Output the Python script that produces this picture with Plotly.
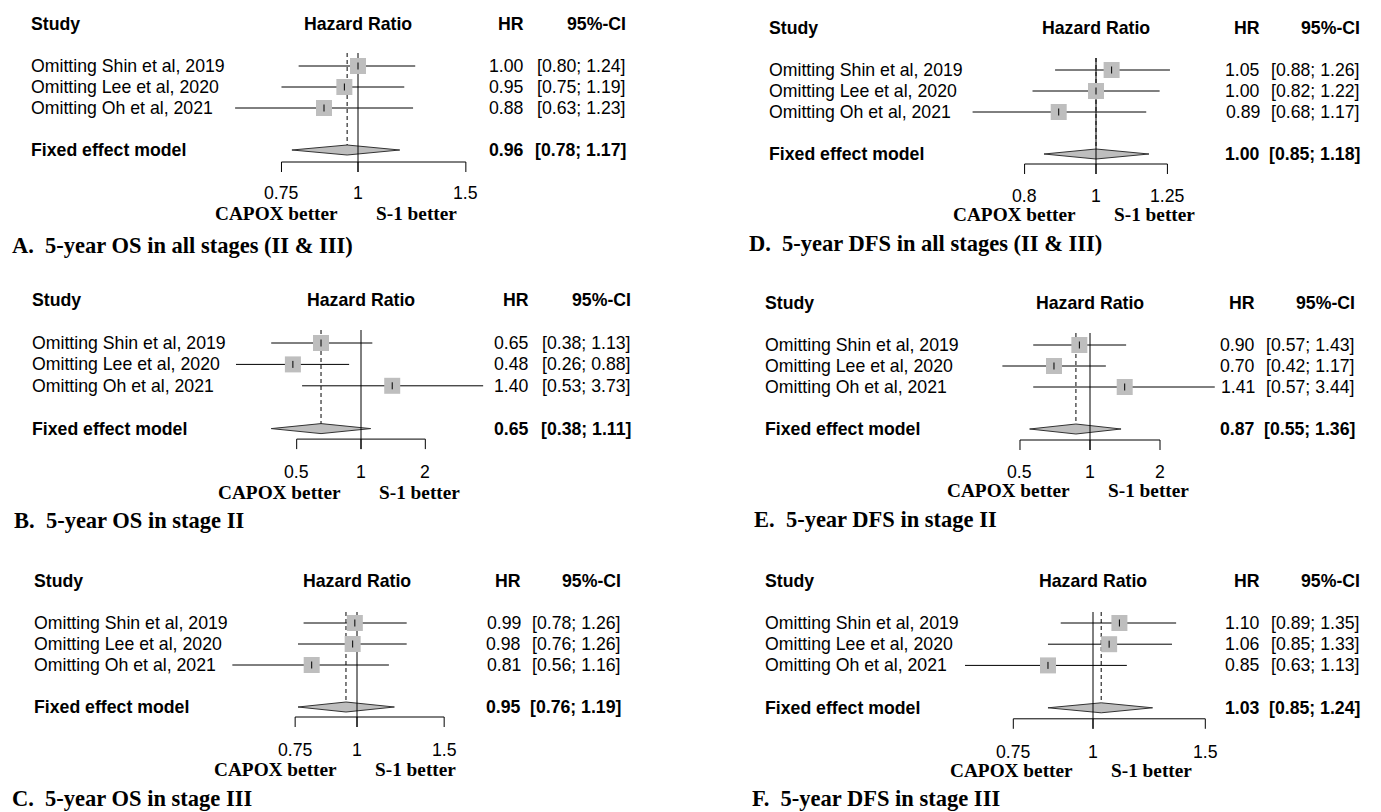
import numpy as np
import plotly.graph_objects as go

W, H = 1381, 812

# ---------------- data ----------------
studies = ["Omitting Shin et al, 2019", "Omitting Lee et al, 2020", "Omitting Oh et al, 2021"]
pooled_label = "Fixed effect model"

titles = [
    "A.\u00a0 5-year OS in all stages (II & III)",
    "B.\u00a0 5-year OS in stage II",
    "C.\u00a0 5-year OS in stage III",
    "D.\u00a0 5-year DFS in all stages (II & III)",
    "E.\u00a0 5-year DFS in stage II",
    "F.\u00a0 5-year DFS in stage III",
]

hr_A = [1.00, 0.95, 0.88]; lo_A = [0.80, 0.75, 0.63]; hi_A = [1.24, 1.19, 1.23]
pooled_A = [0.96, 0.78, 1.17]; ticks_A = [0.75, 1, 1.5]

hr_B = [0.65, 0.48, 1.40]; lo_B = [0.38, 0.26, 0.53]; hi_B = [1.13, 0.88, 3.73]
pooled_B = [0.65, 0.38, 1.11]; ticks_B = [0.5, 1, 2]

hr_C = [0.99, 0.98, 0.81]; lo_C = [0.78, 0.76, 0.56]; hi_C = [1.26, 1.26, 1.16]
pooled_C = [0.95, 0.76, 1.19]; ticks_C = [0.75, 1, 1.5]

hr_D = [1.05, 1.00, 0.89]; lo_D = [0.88, 0.82, 0.68]; hi_D = [1.26, 1.22, 1.17]
pooled_D = [1.00, 0.85, 1.18]; ticks_D = [0.8, 1, 1.25]

hr_E = [0.90, 0.70, 1.41]; lo_E = [0.57, 0.42, 0.57]; hi_E = [1.43, 1.17, 3.44]
pooled_E = [0.87, 0.55, 1.36]; ticks_E = [0.5, 1, 2]

hr_F = [1.10, 1.06, 0.85]; lo_F = [0.89, 0.85, 0.63]; hi_F = [1.35, 1.33, 1.13]
pooled_F = [1.03, 0.85, 1.24]; ticks_F = [0.75, 1, 1.5]

label_left = "CAPOX better"
label_right = "S-1 better"

# ---------------- layout (pixel geometry of each panel) ----------------
panels = [
    dict(hr=hr_A, lo=lo_A, hi=hi_A, pooled=pooled_A, ticks=ticks_A, title=titles[0],
         ref=358, k=266, y0=66, dy=21.0, top=13, axis=12, ticklab=43, side=63, toff=95,
         sx=29, hx=526, cx=628, tx=10, dom=(150, 560)),
    dict(hr=hr_B, lo=lo_B, hi=hi_B, pooled=pooled_B, ticks=ticks_B, title=titles[1],
         ref=361, k=92.8, y0=343, dy=21.4, top=13, axis=10.5, ticklab=43.5, side=63.5, toff=91.5,
         sx=30, hx=531, cx=633, tx=12, dom=(150, 560)),
    dict(hr=hr_C, lo=lo_C, hi=hi_C, pooled=pooled_C, ticks=ticks_C, title=titles[2],
         ref=357, k=215, y0=623, dy=21.0, top=11, axis=10, ticklab=43, side=62, toff=91,
         sx=32, hx=523, cx=623, tx=10, dom=(150, 560)),
    dict(hr=hr_D, lo=lo_D, hi=hi_D, pooled=pooled_D, ticks=ticks_D, title=titles[3],
         ref=1096, k=320, y0=70, dy=21.0, top=12, axis=10, ticklab=42, side=60, toff=89,
         sx=767, hx=1262, cx=1362, tx=747, dom=(900, 1300)),
    dict(hr=hr_E, lo=lo_E, hi=hi_E, pooled=pooled_E, ticks=ticks_E, title=titles[4],
         ref=1090, k=101, y0=345, dy=21.0, top=12, axis=11, ticklab=43, side=61, toff=90,
         sx=763, hx=1257, cx=1357, tx=752, dom=(900, 1300)),
    dict(hr=hr_F, lo=lo_F, hi=hi_F, pooled=pooled_F, ticks=ticks_F, title=titles[5],
         ref=1093, k=277, y0=623, dy=21.2, top=11, axis=11, ticklab=44, side=63, toff=91,
         sx=763, hx=1262, cx=1362, tx=750, dom=(900, 1300)),
]

SANS = "Liberation Sans, Arial, sans-serif"
SERIF = "Liberation Serif, Times New Roman, serif"
FS = 17.7
GRAY = "#BEBEBE"
LINE = "#000000"
TICK_LEN = 10
DIAM_HALF = 5.0
SQUARE = 16

fig = go.Figure()
annotations = []
LN10 = np.log(10)

for i, p in enumerate(panels, start=1):
    xa = "x" if i == 1 else f"x{i}"
    ya = "y" if i == 1 else f"y{i}"
    dy = p["dy"]
    pooled_row = 4
    rows = list(range(len(studies)))
    top_row = -p["top"] / dy
    axis_row = pooled_row + p["axis"] / dy
    tickbot_row = axis_row + TICK_LEN / dy
    dh = DIAM_HALF / dy
    est, plo, phi = p["pooled"]

    # diamond
    fig.add_trace(go.Scatter(
        x=[plo, est, phi, est, plo], y=[pooled_row, pooled_row - dh, pooled_row, pooled_row + dh, pooled_row],
        mode="lines", fill="toself", fillcolor=GRAY, line=dict(color="#333333", width=1),
        xaxis=xa, yaxis=ya, hoverinfo="skip", showlegend=False))
    # reference line at HR = 1
    fig.add_trace(go.Scatter(
        x=[1, 1], y=[top_row, tickbot_row], mode="lines", line=dict(color=LINE, width=1),
        xaxis=xa, yaxis=ya, hoverinfo="skip", showlegend=False))
    # dashed line at pooled estimate
    fig.add_trace(go.Scatter(
        x=[est, est], y=[top_row, pooled_row - dh], mode="lines",
        line=dict(color=LINE, width=1, dash="4px,3px"),
        xaxis=xa, yaxis=ya, hoverinfo="skip", showlegend=False))
    # CI lines
    cx_, cy_ = [], []
    for r, lo, hi in zip(rows, p["lo"], p["hi"]):
        cx_ += [lo, hi, None]
        cy_ += [r, r, None]
    fig.add_trace(go.Scatter(
        x=cx_, y=cy_, mode="lines", line=dict(color=LINE, width=1),
        xaxis=xa, yaxis=ya, hoverinfo="skip", showlegend=False))
    # squares
    fig.add_trace(go.Scatter(
        x=p["hr"], y=rows, mode="markers",
        marker=dict(symbol="square", size=SQUARE, color=GRAY, line=dict(width=0)),
        xaxis=xa, yaxis=ya, hoverinfo="skip", showlegend=False))
    # point estimate tick
    fig.add_trace(go.Scatter(
        x=p["hr"], y=rows, mode="markers",
        marker=dict(symbol="line-ns", size=5, line=dict(color=LINE, width=1)),
        xaxis=xa, yaxis=ya, hoverinfo="skip", showlegend=False))
    # x axis (line between extreme ticks + downward ticks)
    t = p["ticks"]
    ax_x = [t[0], t[-1], None]
    ax_y = [axis_row, axis_row, None]
    for tv in t:
        ax_x += [tv, tv, None]
        ax_y += [axis_row, tickbot_row, None]
    fig.add_trace(go.Scatter(
        x=ax_x, y=ax_y, mode="lines", line=dict(color=LINE, width=1),
        xaxis=xa, yaxis=ya, hoverinfo="skip", showlegend=False))

    # axes
    L, R = p["dom"]
    xr = [(L - p["ref"]) / p["k"] / LN10, (R - p["ref"]) / p["k"] / LN10]
    yr = [(H - p["y0"]) / dy, (0 - p["y0"]) / dy]
    fig.update_layout(**{
        ("xaxis" if i == 1 else f"xaxis{i}"): dict(type="log", domain=[L / W, R / W], range=xr,
                                                     visible=False, anchor=ya, fixedrange=True),
        ("yaxis" if i == 1 else f"yaxis{i}"): dict(domain=[0, 1], range=yr, visible=False,
                                                     anchor=xa, fixedrange=True),
    })

    def ann(text, x, y, xref, xanchor, size=FS, bold=False, family=SANS, yshift=0, xshift=0):
        annotations.append(dict(
            text=f"<b>{text}</b>" if bold else text, x=x, y=y, xref=xref, yref=ya,
            xanchor=xanchor, yanchor="middle", showarrow=False, xshift=xshift, yshift=yshift,
            font=dict(family=family, size=size, color="#000000")))

    # headers
    ann("Study", p["sx"] / W, -2, "paper", "left", bold=True)
    ann("Hazard Ratio", 0, -2, xa, "center", bold=True)
    ann("HR", p["hx"] / W, -2, "paper", "right", bold=True)
    ann("95%-CI", p["cx"] / W, -2, "paper", "right", bold=True)
    # study rows
    for r, name, h, lo, hi in zip(rows, studies, p["hr"], p["lo"], p["hi"]):
        ann(name, p["sx"] / W, r, "paper", "left")
        ann(f"{h:.2f}", p["hx"] / W, r, "paper", "right")
        ann(f"[{lo:.2f}; {hi:.2f}]", p["cx"] / W, r, "paper", "right")
    # pooled row
    ann(pooled_label, p["sx"] / W, pooled_row, "paper", "left", bold=True)
    ann(f"{est:.2f}", p["hx"] / W, pooled_row, "paper", "right", bold=True)
    ann(f"[{plo:.2f}; {phi:.2f}]", p["cx"] / W, pooled_row, "paper", "right", bold=True)
    # tick labels
    for tv in t:
        ann(f"{tv:g}", np.log10(tv), pooled_row, xa, "center", yshift=-p["ticklab"])
    # favour labels
    ann(label_left, 0, pooled_row, xa, "right", size=19.3, bold=True, family=SERIF,
        yshift=-p["side"], xshift=-18)
    ann(label_right, 0, pooled_row, xa, "left", size=19.3, bold=True, family=SERIF,
        yshift=-p["side"], xshift=16)
    # panel title
    ann(p["title"], p["tx"] / W, pooled_row, "paper", "left", size=22.5, bold=True, family=SERIF,
        yshift=-p["toff"])

fig.update_layout(
    width=W, height=H, margin=dict(l=0, r=0, t=0, b=0),
    paper_bgcolor="white", plot_bgcolor="rgba(0,0,0,0)",
    annotations=annotations, showlegend=False,
)

fig.write_html("out.html", config={"displayModeBar": False, "staticPlot": True},
               post_script="document.body.style.margin='0px';document.body.style.overflow='hidden';")
